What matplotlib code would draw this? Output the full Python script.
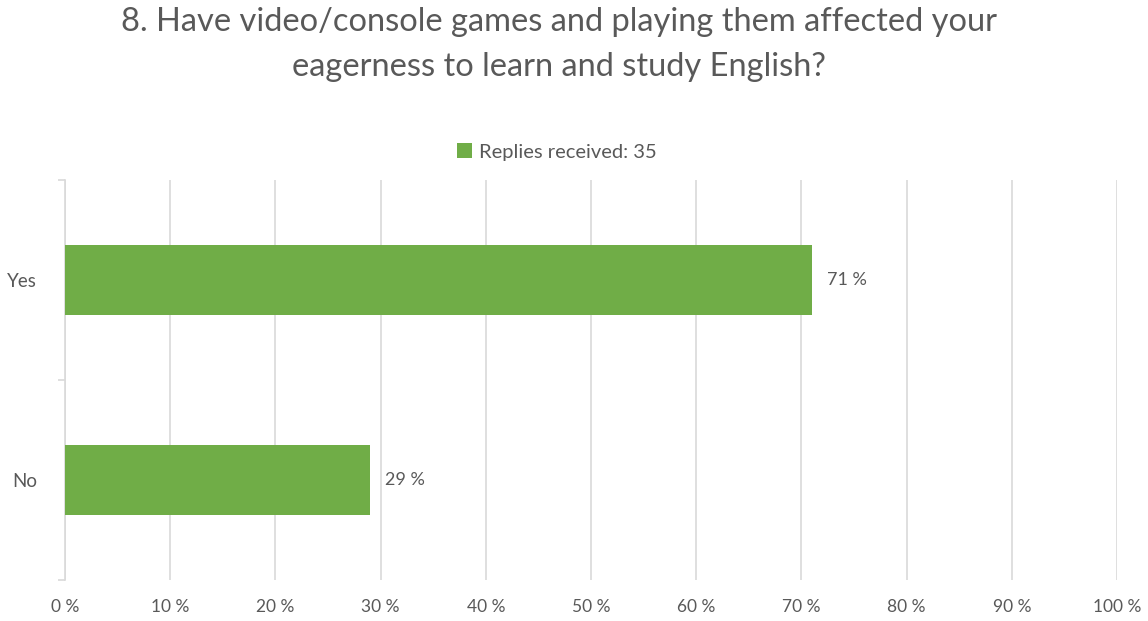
import matplotlib.pyplot as plt
import numpy as np

categories = ['No', 'Yes']
shares = [29, 71]
xticks = [0, 10, 20, 30, 40, 50, 60, 70, 80, 90, 100]
series_name = 'Replies received: 35'
title = '8. Have video/console games and playing them affected your\neagerness to learn and study English?'

plt.rcParams['font.family'] = ['Lato', 'DejaVu Sans']
green = '#70ad47'
grey_text = '#595959'
grid_col = '#d9d9d9'

fig = plt.figure(figsize=(11.48, 6.21), dpi=100)
ax = fig.add_axes([0.0566, 0.066, 0.9164, 0.644])

y = np.arange(len(categories))
bars = ax.barh(y, shares, height=0.35, color=green, label=series_name, zorder=3)

for b, v in zip(bars, shares):
    ax.text(v + 1.4, b.get_y() + b.get_height() / 2, '%d %%' % v,
            va='center', ha='left', fontsize=13, color=grey_text)

ax.set_xlim(0, 100)
ax.set_ylim(-0.5, 1.5)
ax.set_xticks(xticks)
ax.set_xticklabels(['%d %%' % t for t in xticks], fontsize=12.5, color=grey_text)
ax.set_yticks(y)
ax.set_yticklabels(categories, fontsize=13.5, color=grey_text)
ax.tick_params(axis='x', length=0, pad=14)
ax.tick_params(axis='y', length=0, pad=20)

# small category separator ticks on the left axis
ax.set_yticks([-0.5, 0.5, 1.5], minor=True)
ax.tick_params(axis='y', which='minor', length=5, color=grid_col, width=1.2)

ax.grid(axis='x', color=grid_col, linewidth=1.2, zorder=0)
for s in ['top', 'right', 'bottom']:
    ax.spines[s].set_visible(False)
ax.spines['left'].set_color(grid_col)
ax.spines['left'].set_linewidth(1.2)

fig.text(0.487, 0.988, title, ha='center', va='top', fontsize=23.5,
         color=grey_text, linespacing=1.6)
fig.legend(loc='center', bbox_to_anchor=(0.485, 0.755), frameon=False,
           fontsize=14.5, handlelength=0.75, handleheight=0.75, handletextpad=0.35,
           labelcolor=grey_text)

fig.savefig('out.png', dpi=100)
